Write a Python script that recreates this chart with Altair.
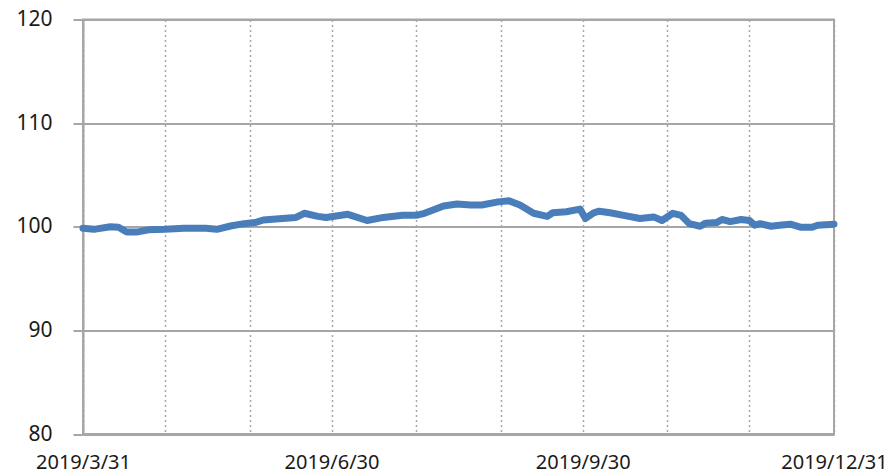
import altair as alt
import pandas as pd

# ---- data ----
dates = [
    "2019-03-31", "2019-04-04", "2019-04-10", "2019-04-13", "2019-04-16", "2019-04-20",
    "2019-04-24", "2019-04-30", "2019-05-07", "2019-05-15", "2019-05-19", "2019-05-24",
    "2019-05-29", "2019-06-02", "2019-06-05", "2019-06-12", "2019-06-17", "2019-06-20",
    "2019-06-25", "2019-06-28", "2019-07-06", "2019-07-13", "2019-07-19", "2019-07-26",
    "2019-07-31", "2019-08-03", "2019-08-05", "2019-08-10", "2019-08-15", "2019-08-20",
    "2019-08-24", "2019-08-30", "2019-09-03", "2019-09-07", "2019-09-12", "2019-09-17",
    "2019-09-19", "2019-09-24", "2019-09-29", "2019-10-01", "2019-10-04", "2019-10-06",
    "2019-10-10", "2019-10-15", "2019-10-21", "2019-10-26", "2019-10-29", "2019-11-02",
    "2019-11-05", "2019-11-08", "2019-11-12", "2019-11-14", "2019-11-18", "2019-11-20",
    "2019-11-23", "2019-11-27", "2019-11-30", "2019-12-02", "2019-12-04", "2019-12-08",
    "2019-12-11", "2019-12-15", "2019-12-19", "2019-12-23", "2019-12-25", "2019-12-31",
]
values = [
    99.85, 99.75, 100.0, 99.95, 99.5, 99.5,
    99.7, 99.75, 99.85, 99.85, 99.75, 100.07,
    100.3, 100.4, 100.65, 100.8, 100.9, 101.3,
    101.0, 100.9, 101.2, 100.6, 100.9, 101.1,
    101.1, 101.3, 101.5, 102.0, 102.2, 102.1,
    102.1, 102.4, 102.5, 102.1, 101.3, 101.0,
    101.35, 101.45, 101.7, 100.8, 101.35, 101.5,
    101.35, 101.1, 100.8, 100.95, 100.6, 101.3,
    101.1, 100.3, 100.05, 100.35, 100.4, 100.7,
    100.5, 100.7, 100.6, 100.15, 100.3, 100.05,
    100.15, 100.25, 99.95, 99.95, 100.15, 100.25,
]

month_ends = ["2019-03-31", "2019-04-30", "2019-05-31", "2019-06-30", "2019-07-31",
              "2019-08-31", "2019-09-30", "2019-10-31", "2019-11-30", "2019-12-31"]
y_ticks = [80, 90, 100, 110, 120]
y_domain = [80, 120]

df = pd.DataFrame({"date": dates, "value": values})


def dt(s):
    y, m, d = (int(p) for p in s.split("-"))
    return alt.DateTime(year=y, month=m, date=d, utc=True)


GRID = "#A6A6A6"
FONT = "Noto Sans"

line = alt.Chart(df).mark_line(
    color="#4A7EBB", strokeWidth=7, strokeJoin="round", strokeCap="round"
).encode(
    x=alt.X(
        "date:T",
        scale=alt.Scale(type="utc", domain=[dt(month_ends[0]), dt(month_ends[-1])]),
        axis=alt.Axis(
            values=[dt(s) for s in month_ends],
            grid=True, gridDash=[2, 3], gridColor=GRID, gridWidth=1.5,
            ticks=False, domain=True, domainColor=GRID, domainWidth=2,
            labelExpr="utcmonth(datum.value) % 3 == 2 ? utcFormat(datum.value, '%Y/%-m/%-d') : ''",
            labelFont=FONT, labelFontSize=20, labelColor="#1a1a1a",
            labelPadding=18, labelOverlap=False, labelFlush=False, title=None,
        ),
    ),
    y=alt.Y(
        "value:Q",
        scale=alt.Scale(domain=y_domain, nice=False, zero=False),
        axis=alt.Axis(
            values=y_ticks, grid=True, gridColor=GRID, gridWidth=2,
            ticks=True, tickSize=10, tickColor=GRID, tickWidth=2,
            domain=True, domainColor=GRID, domainWidth=2,
            labelFont=FONT, labelFontSize=21, labelColor="#1a1a1a",
            labelPadding=21, title=None,
        ),
    ),
)

chart = line.properties(
    width=751,
    height=414.5,
    autosize=alt.AutoSizeParams(type="none"),
    padding={"left": 75, "top": 11.5, "right": 53, "bottom": 42},
    background="white",
).configure_view(stroke=GRID, strokeWidth=2)

chart.save("out.html", embed_options={"renderer": "svg", "actions": False})
